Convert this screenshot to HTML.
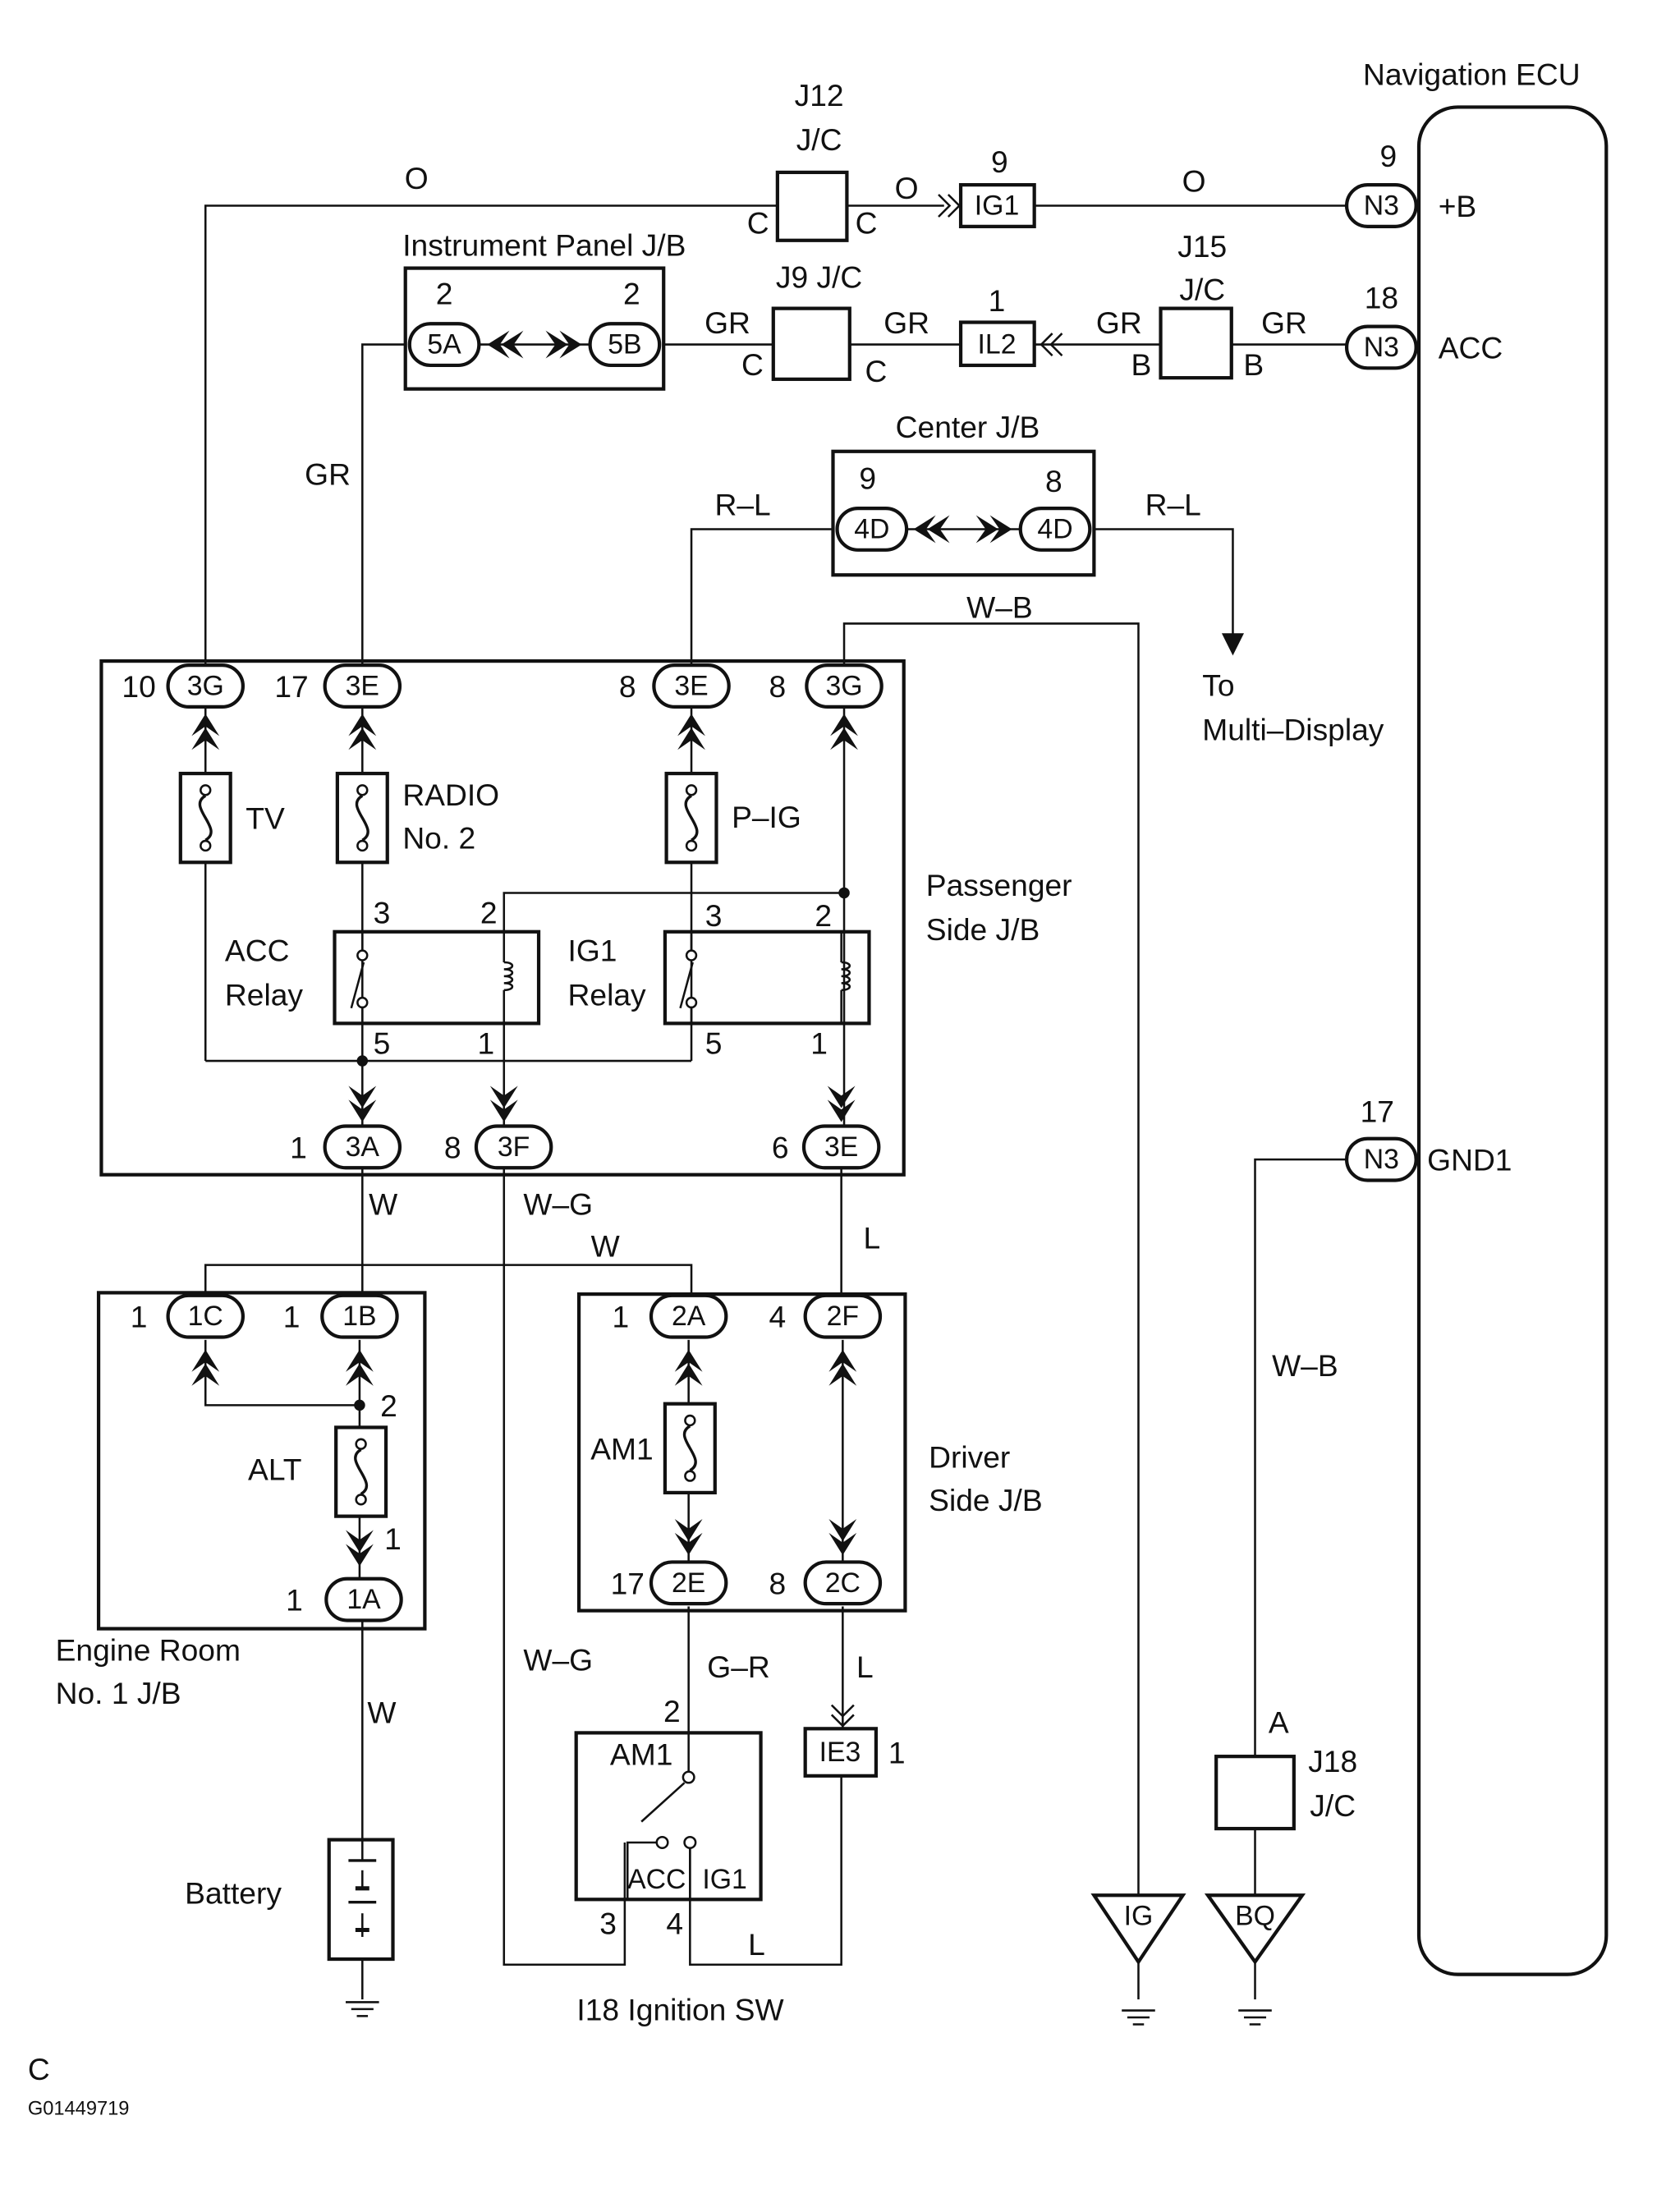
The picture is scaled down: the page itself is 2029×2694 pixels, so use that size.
<!DOCTYPE html>
<html><head><meta charset="utf-8"><style>
html,body{margin:0;padding:0;background:#fff}
svg{display:block}
text{font-family:"Liberation Sans",sans-serif;font-size:22px;fill:#111}
.s{font-size:20px}
.p{font-size:20px;text-anchor:middle;dominant-baseline:central}
</style></head><body>
<svg width="2029" height="2694" viewBox="0 0 1200 1593" xmlns="http://www.w3.org/2000/svg">
<defs>
<path id="cu" d="M-10,10 L0,-6 L10,10 L0,3 Z M-10,0 L0,-16 L10,0 L0,-7 Z" fill="#111"/>
<path id="cd" d="M-10,-10 L0,6 L10,-10 L0,-3 Z M-10,0 L0,16 L10,0 L0,7 Z" fill="#111"/>
<path id="cr" d="M-10,-10 L6,0 L-10,10 L-3,0 Z M0,-10 L16,0 L0,10 L7,0 Z" fill="#111"/>
<path id="cl" d="M10,-10 L-6,0 L10,10 L3,0 Z M0,-10 L-16,0 L0,10 L-7,0 Z" fill="#111"/>
<g id="fuse"><rect x="-18" y="-32" width="36" height="64" fill="#fff" stroke="#111" stroke-width="2.5"/><circle cx="0" cy="-20" r="3.5" fill="#fff" stroke="#111" stroke-width="1.5"/><circle cx="0" cy="20" r="3.5" fill="#fff" stroke="#111" stroke-width="1.5"/><path d="M0,-16 C-14,-8 14,8 0,16" fill="none" stroke="#111" stroke-width="2"/></g>
<g id="gnd" stroke="#111" stroke-width="1.5"><line x1="-12" y1="0" x2="12" y2="0"/><line x1="-8" y1="5" x2="8" y2="5"/><line x1="-4" y1="10" x2="4" y2="10"/></g>
</defs>
<g fill="none" stroke="#111" stroke-width="1.5">
<!-- wires -->
<polyline points="970,148 745,148"/><polyline points="680,148 610,148"/><polyline points="560,148 148,148 148,478"/>
<polyline points="970,248 887,248"/><polyline points="836,248 745,248"/><polyline points="692,248 612,248"/><polyline points="557,248 478,248"/>
<polyline points="292,248 261,248 261,478"/>
<polyline points="600,381 498,381 498,478"/><polyline points="788,381 888,381 888,458"/>
<polyline points="608,478 608,449 820,449 820,1365"/>
<polyline points="970,835 904,835 904,1265"/><line x1="904" y1="1317" x2="904" y2="1365"/>
<!-- passenger internal -->
<line x1="148" y1="510" x2="148" y2="764"/>
<line x1="261" y1="510" x2="261" y2="810"/>
<line x1="498" y1="510" x2="498" y2="764"/>
<line x1="148" y1="764" x2="498" y2="764"/>
<polyline points="363,671 363,643 608,643"/>
<line x1="608" y1="510" x2="608" y2="810"/>
<line x1="363" y1="737" x2="363" y2="810"/>
<!-- lower -->
<line x1="261" y1="842" x2="261" y2="934"/>
<polyline points="148,934 148,911 498,911 498,934"/>
<polyline points="363,842 363,1415 450,1415 450,1327"/>
<line x1="606" y1="842" x2="606" y2="934"/>
<polyline points="148,965 148,1012 259,1012"/><line x1="259" y1="965" x2="259" y2="1136"/>
<line x1="261" y1="1168" x2="261" y2="1325"/><line x1="261" y1="1411" x2="261" y2="1440"/>
<line x1="496" y1="965" x2="496" y2="1125"/><line x1="607" y1="965" x2="607" y2="1125"/>
<line x1="496" y1="1157" x2="496" y2="1248"/>
<line x1="607" y1="1157" x2="607" y2="1245"/>
<polyline points="606,1279 606,1415 497,1415 497,1327"/>
<line x1="820" y1="1413" x2="820" y2="1440"/><line x1="904" y1="1413" x2="904" y2="1440"/>
<!-- boxes -->
<rect x="1022" y="77" width="135" height="1345" rx="28" stroke-width="2.5"/>
<rect x="560" y="124" width="50" height="49" stroke-width="2.5"/>
<rect x="692" y="133" width="53" height="30" stroke-width="2.5"/>
<rect x="292" y="193" width="186" height="87" stroke-width="2.5"/>
<rect x="557" y="222" width="55" height="51" stroke-width="2.5"/>
<rect x="692" y="232" width="53" height="31" stroke-width="2.5"/>
<rect x="836" y="222" width="51" height="50" stroke-width="2.5"/>
<rect x="600" y="325" width="188" height="89" stroke-width="2.5"/>
<rect x="73" y="476" width="578" height="370" stroke-width="2.5"/>
<rect x="241" y="671" width="147" height="66" stroke-width="2.5"/>
<rect x="479" y="671" width="147" height="66" stroke-width="2.5"/>
<rect x="71" y="931" width="235" height="242" stroke-width="2.5"/>
<rect x="417" y="932" width="235" height="228" stroke-width="2.5"/>
<rect x="415" y="1248" width="133" height="120" stroke-width="2.5"/>
<rect x="580" y="1245" width="51" height="34" stroke-width="2.5"/>
<rect x="876" y="1265" width="56" height="52" stroke-width="2.5"/>
<rect x="237" y="1325" width="46" height="86" stroke-width="2.5"/>
<polygon points="788,1365 852,1365 820,1413" stroke-width="2.5"/>
<polygon points="870,1365 938,1365 904,1413" stroke-width="2.5"/>
<!-- relay internals -->
<line x1="261" y1="671" x2="261" y2="684"/><circle cx="261" cy="688" r="3.5" fill="#fff"/><circle cx="261" cy="722" r="3.5" fill="#fff"/><line x1="253" y1="726" x2="262" y2="693"/><line x1="261" y1="726" x2="261" y2="737"/>
<line x1="498" y1="671" x2="498" y2="684"/><circle cx="498" cy="688" r="3.5" fill="#fff"/><circle cx="498" cy="722" r="3.5" fill="#fff"/><line x1="490" y1="726" x2="499" y2="693"/><line x1="498" y1="726" x2="498" y2="737"/>
<line x1="363" y1="671" x2="363" y2="693"/><path d="M363,693 c8,0 8,5 0,5 c8,0 8,5 0,5 c8,0 8,5 0,5 c8,0 8,5 0,5"/><line x1="363" y1="713" x2="363" y2="737"/>
<line x1="606" y1="671" x2="606" y2="693"/><path d="M606,693 c8,0 8,5 0,5 c8,0 8,5 0,5 c8,0 8,5 0,5 c8,0 8,5 0,5"/><line x1="606" y1="713" x2="606" y2="737"/>
<!-- switch -->
<line x1="496" y1="1248" x2="496" y2="1276"/><circle cx="496" cy="1280" r="4" fill="#fff"/><line x1="493" y1="1284" x2="462" y2="1312"/>
<circle cx="477" cy="1327" r="4" fill="#fff"/><circle cx="497" cy="1327" r="4" fill="#fff"/>
<polyline points="473,1327 452,1327 452,1368"/><line x1="497" y1="1331" x2="497" y2="1368"/>
<!-- battery -->
<line x1="261" y1="1325" x2="261" y2="1340"/><line x1="251" y1="1340" x2="271" y2="1340" stroke-width="2"/><line x1="261" y1="1347" x2="261" y2="1360"/>
<line x1="251" y1="1370" x2="271" y2="1370" stroke-width="2"/><line x1="261" y1="1378" x2="261" y2="1395"/><line x1="256" y1="1360" x2="266" y2="1360" stroke-width="3"/><line x1="256" y1="1390" x2="266" y2="1390" stroke-width="3"/>
<!-- chevrons open -->
<path d="M676,140 L684,148 L676,156 M683,140 L691,148 L683,156"/>
<path d="M765,240 L757,248 L765,256 M758,240 L750,248 L758,256"/>
<path d="M599,1228 L607,1236 L615,1228 M599,1235 L607,1243 L615,1235"/>
<!-- pills -->
<g stroke-width="2.5" fill="#fff">
<rect x="970" y="133" width="50" height="30" rx="15"/><rect x="970" y="235" width="50" height="30" rx="15"/><rect x="970" y="820" width="50" height="30" rx="15"/>
<rect x="295" y="233" width="50" height="30" rx="15"/><rect x="425" y="233" width="50" height="30" rx="15"/>
<rect x="603" y="366" width="50" height="30" rx="15"/><rect x="735" y="366" width="50" height="30" rx="15"/>
<rect x="121" y="479" width="54" height="30" rx="15"/><rect x="234" y="479" width="54" height="30" rx="15"/><rect x="471" y="479" width="54" height="30" rx="15"/><rect x="581" y="479" width="54" height="30" rx="15"/>
<rect x="234" y="811" width="54" height="30" rx="15"/><rect x="343" y="811" width="54" height="30" rx="15"/><rect x="579" y="811" width="54" height="30" rx="15"/>
<rect x="121" y="933" width="54" height="30" rx="15"/><rect x="232" y="933" width="54" height="30" rx="15"/><rect x="235" y="1137" width="54" height="30" rx="15"/>
<rect x="469" y="933" width="54" height="30" rx="15"/><rect x="580" y="933" width="54" height="30" rx="15"/><rect x="469" y="1125" width="54" height="30" rx="15"/><rect x="580" y="1125" width="54" height="30" rx="15"/>
</g>
</g>
<line x1="345" y1="248" x2="425" y2="248" stroke="#111" stroke-width="1.5"/>
<line x1="653" y1="381" x2="735" y2="381" stroke="#111" stroke-width="1.5"/>
<use href="#cl" x="367" y="248"/><use href="#cr" x="403" y="248"/>
<use href="#cl" x="674" y="381"/><use href="#cr" x="713" y="381"/>
<polygon points="880,456 896,456 888,472" fill="#111"/>
<use href="#cu" x="148" y="530"/><use href="#cu" x="261" y="530"/><use href="#cu" x="498" y="530"/><use href="#cu" x="608" y="530"/>
<use href="#cd" x="261" y="792"/><use href="#cd" x="363" y="792"/><use href="#cd" x="606" y="792"/>
<use href="#cu" x="148" y="988"/><use href="#cu" x="259" y="988"/><use href="#cd" x="259" y="1112"/>
<use href="#cu" x="496" y="988"/><use href="#cu" x="607" y="988"/><use href="#cd" x="496" y="1104"/><use href="#cd" x="607" y="1104"/>
<use href="#fuse" x="148" y="589"/><use href="#fuse" x="261" y="589"/><use href="#fuse" x="498" y="589"/><use href="#fuse" x="260" y="1060"/><use href="#fuse" x="497" y="1043"/>
<circle cx="261" cy="764" r="4" fill="#111"/><circle cx="608" cy="643" r="4" fill="#111"/><circle cx="259" cy="1012" r="4" fill="#111"/>
<use href="#gnd" x="261" y="1442"/><use href="#gnd" x="820" y="1448"/><use href="#gnd" x="904" y="1448"/>
<!-- pill text -->
<text class="p" x="995" y="148">N3</text><text class="p" x="995" y="250">N3</text><text class="p" x="995" y="835">N3</text>
<text class="p" x="320" y="248">5A</text><text class="p" x="450" y="248">5B</text>
<text class="p" x="628" y="381">4D</text><text class="p" x="760" y="381">4D</text>
<text class="p" x="148" y="494">3G</text><text class="p" x="261" y="494">3E</text><text class="p" x="498" y="494">3E</text><text class="p" x="608" y="494">3G</text>
<text class="p" x="261" y="826">3A</text><text class="p" x="370" y="826">3F</text><text class="p" x="606" y="826">3E</text>
<text class="p" x="148" y="948">1C</text><text class="p" x="259" y="948">1B</text><text class="p" x="262" y="1152">1A</text>
<text class="p" x="496" y="948">2A</text><text class="p" x="607" y="948">2F</text><text class="p" x="496" y="1140">2E</text><text class="p" x="607" y="1140">2C</text>
<text class="p" x="718" y="148">IG1</text><text class="p" x="718" y="248">IL2</text><text class="p" x="605" y="1262">IE3</text>
<text class="p" x="820" y="1380">IG</text><text class="p" x="904" y="1380">BQ</text>
<!-- labels -->
<g text-anchor="middle">
<text x="1060" y="61">Navigation ECU</text>
<text x="1000" y="120">9</text><text x="995" y="222">18</text><text x="992" y="808">17</text>
<text x="590" y="76">J12</text><text x="590" y="108">J/C</text><text x="546" y="168">C</text><text x="624" y="168">C</text><text x="653" y="143">O</text><text x="300" y="136">O</text><text x="860" y="138">O</text><text x="720" y="124">9</text>
<text x="392" y="184">Instrument Panel J/B</text><text x="320" y="219">2</text><text x="455" y="219">2</text>
<text x="590" y="207">J9 J/C</text><text x="524" y="240">GR</text><text x="653" y="240">GR</text><text x="542" y="270">C</text><text x="631" y="275">C</text>
<text x="718" y="224">1</text><text x="866" y="185">J15</text><text x="866" y="216">J/C</text><text x="806" y="240">GR</text><text x="925" y="240">GR</text><text x="822" y="270">B</text><text x="903" y="270">B</text>
<text x="236" y="349">GR</text>
<text x="697" y="315">Center J/B</text><text x="625" y="352">9</text><text x="759" y="354">8</text><text x="535" y="371">R–L</text><text x="845" y="371">R–L</text><text x="720" y="445">W–B</text>
<text x="100" y="502">10</text><text x="210" y="502">17</text><text x="452" y="502">8</text><text x="560" y="502">8</text>
<text x="275" y="665">3</text><text x="352" y="665">2</text><text x="275" y="759">5</text><text x="350" y="759">1</text>
<text x="514" y="667">3</text><text x="593" y="667">2</text><text x="514" y="759">5</text><text x="590" y="759">1</text>
<text x="215" y="834">1</text><text x="326" y="834">8</text><text x="562" y="834">6</text>
<text x="276" y="875">W</text><text x="402" y="875">W–G</text><text x="436" y="905">W</text><text x="628" y="899">L</text>
<text x="100" y="956">1</text><text x="210" y="956">1</text><text x="280" y="1020">2</text><text x="198" y="1066">ALT</text><text x="283" y="1116">1</text><text x="212" y="1160">1</text>
<text x="447" y="956">1</text><text x="560" y="956">4</text><text x="448" y="1051">AM1</text><text x="452" y="1148">17</text><text x="560" y="1148">8</text>
<text x="275" y="1241">W</text><text x="402" y="1203">W–G</text><text x="532" y="1208">G–R</text><text x="623" y="1208">L</text><text x="484" y="1240">2</text><text x="646" y="1270">1</text>
<text x="462" y="1271">AM1</text><text x="473" y="1360" class="s">ACC</text><text x="522" y="1360" class="s">IG1</text><text x="438" y="1393">3</text><text x="486" y="1393">4</text><text x="545" y="1408">L</text>
<text x="490" y="1455">I18 Ignition SW</text>
<text x="168" y="1371">Battery</text>
<text x="940" y="991">W–B</text><text x="921" y="1248">A</text><text x="960" y="1276">J18</text><text x="960" y="1308">J/C</text>
</g>
<text x="290" y="580">RADIO</text><text x="290" y="611">No. 2</text><text x="177" y="597">TV</text><text x="527" y="596">P–IG</text>
<text x="162" y="692">ACC</text><text x="162" y="724">Relay</text><text x="409" y="692">IG1</text><text x="409" y="724">Relay</text>
<text x="667" y="645">Passenger</text><text x="667" y="677">Side J/B</text>
<text x="669" y="1057">Driver</text><text x="669" y="1088">Side J/B</text>
<text x="40" y="1196">Engine Room</text><text x="40" y="1227">No. 1 J/B</text>
<text x="866" y="501">To</text><text x="866" y="533">Multi–Display</text>
<text x="1036" y="156">+B</text><text x="1036" y="258">ACC</text><text x="1028" y="843">GND1</text>
<text x="20" y="1498">C</text><text x="20" y="1523" style="font-size:14px">G01449719</text>
</svg>
</body></html>
